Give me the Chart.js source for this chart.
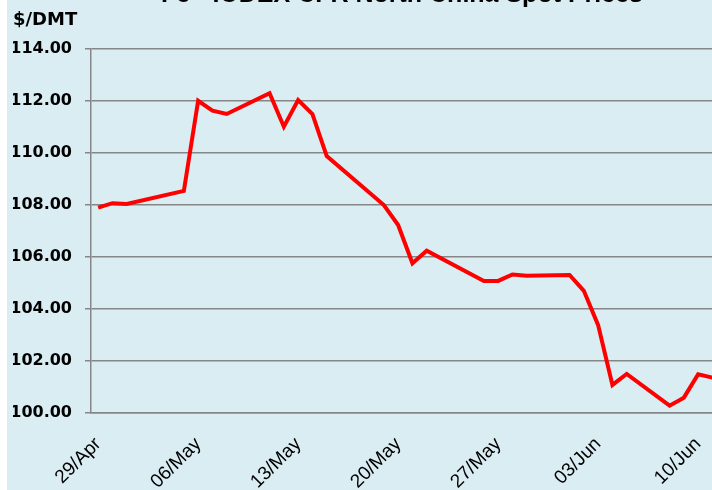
<!DOCTYPE html>
<html><head><meta charset="utf-8">
<script src="https://cdn.jsdelivr.net/npm/chart.js@4.4.1/dist/chart.umd.min.js"></script>
<style>
html,body{margin:0;padding:0;background:#ffffff;overflow:hidden;width:712px;height:490px;}
#wrap{position:absolute;left:7px;top:-20px;width:790px;height:510px;}
</style></head><body>
<div id="wrap"><canvas id="c" width="790" height="510"></canvas></div>
<script>
const chartTitle = 'Fe - IODEX CFR North China Spot Prices';
const unitLabel = '$/DMT';
const baseDate = '2020-04-29';
const dates = ['2020-04-29','2020-04-30','2020-05-01','2020-05-05','2020-05-06','2020-05-07','2020-05-08',
  '2020-05-11','2020-05-12','2020-05-13','2020-05-14','2020-05-15','2020-05-19','2020-05-20','2020-05-21',
  '2020-05-22','2020-05-26','2020-05-27','2020-05-28','2020-05-29','2020-06-01','2020-06-02','2020-06-03',
  '2020-06-04','2020-06-05','2020-06-08','2020-06-09','2020-06-10','2020-06-11'];
const prices = [107.90,108.07,108.04,108.54,112.01,111.63,111.50,
  112.30,111.01,112.04,111.50,109.88,108.00,107.23,105.76,
  106.24,105.08,105.08,105.33,105.28,105.31,104.70,103.38,
  101.08,101.50,100.28,100.59,101.49,101.36];
const tickDates = ['2020-04-29','2020-05-06','2020-05-13','2020-05-20','2020-05-27','2020-06-03','2020-06-10'];
const tickLabels = ['29/Apr','06/May','13/May','20/May','27/May','03/Jun','10/Jun'];
const yTicks = [100,102,104,106,108,110,112,114];

function dayOf(s){
  const p = s.split('-').map(Number), b = baseDate.split('-').map(Number);
  return (Date.UTC(p[0],p[1]-1,p[2]) - Date.UTC(b[0],b[1]-1,b[2]))/86400000;
}
const gridGray = '#868686';
const bgPlugin = {id:'bg', beforeDraw(c){const x=c.ctx;x.save();x.fillStyle='#DAEDF3';x.fillRect(0,0,c.width,c.height);x.restore();}};

new Chart(document.getElementById('c').getContext('2d'), {
  type:'line',
  data:{datasets:[{data: dates.map((d,i)=>({x:dayOf(d), y:prices[i]})),
    borderColor:'#FF0000', borderWidth:4, pointRadius:0, tension:0, fill:false}]},
  options:{
    responsive:false, animation:false, devicePixelRatio:1,
    layout:{padding:{left:6,right:6,top:0,bottom:0}},
    plugins:{legend:{display:false}, tooltip:{enabled:false},
      title:{display:true,text:chartTitle,color:'#000',font:{family:'Liberation Sans',size:25,weight:'bold',lineHeight:1.2},padding:{top:0,bottom:0}},
      subtitle:{display:true,text:unitLabel,align:'start',color:'#000',font:{family:'DejaVu Sans',size:18,weight:'bold',lineHeight:1.2},padding:{top:0,bottom:17.4}}
    },
    scales:{
      x:{type:'linear',min:-0.5,max:48.5,
        grid:{display:false,drawTicks:false},
        border:{display:true,color:gridGray,width:1.5},
        afterBuildTicks:s=>{s.ticks = tickDates.map(d=>({value:dayOf(d)}));},
        ticks:{autoSkip:false,minRotation:45,maxRotation:45,padding:20,color:'#000',
          font:{family:'Liberation Sans',size:19},callback:(v,i)=>tickLabels[i]},
        afterFit:s=>{s.height=77;}},
      y:{min:100,max:114,
        afterBuildTicks:s=>{s.ticks = yTicks.map(v=>({value:v}));},
        ticks:{padding:13,color:'#000',font:{family:'DejaVu Sans',size:16,weight:'bold'},callback:v=>Number(v).toFixed(2)},
        grid:{color:gridGray,lineWidth:1.5,tickLength:6,drawTicks:true},
        border:{color:gridGray,width:1.5},
        afterFit:s=>{s.width=78;}}
    }
  },
  plugins:[bgPlugin]
});
</script>
</body></html>
